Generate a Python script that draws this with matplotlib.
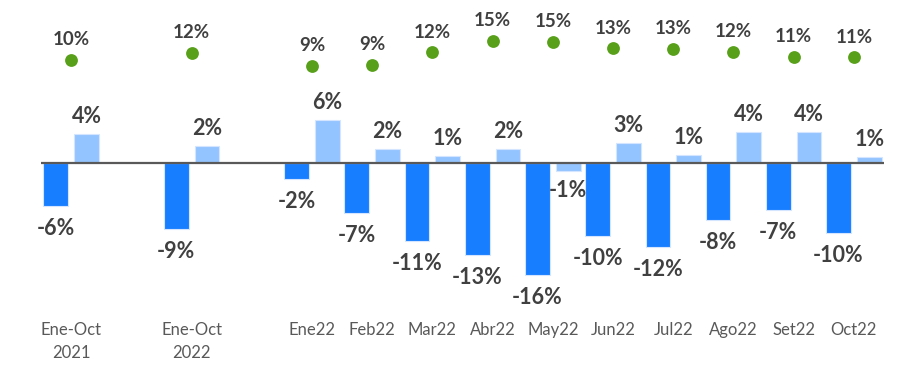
import numpy as np
import matplotlib
matplotlib.use('Agg')
from matplotlib import pyplot as plt

plt.rcParams['font.family'] = ['Lato', 'DejaVu Sans']

labels = ['Ene-Oct\n2021', 'Ene-Oct\n2022', 'Ene22', 'Feb22', 'Mar22', 'Abr22', 'May22',
          'Jun22', 'Jul22', 'Ago22', 'Set22', 'Oct22']
# positions leave an empty slot between the yearly totals and the months
pos = [0, 2, 4, 5, 6, 7, 8, 9, 10, 11, 12, 13]

dark = [-6.1, -9.4, -2.3, -7.1, -11.2, -13.2, -16.0, -10.4, -12.0, -8.2, -6.7, -10.0]
light = [4.1, 2.4, 6.1, 2.0, 1.0, 2.0, -1.1, 2.8, 1.2, 4.4, 4.4, 0.9]
green = [10.3, 12.1, 8.9, 9.1, 12.2, 15.1, 14.8, 13.2, 13.1, 12.4, 11.1, 11.0]

c_dark = '#177eff'
c_light = '#93c4ff'
c_green = '#58a01a'
c_text = '#404040'

fig = plt.figure(figsize=(9.07, 3.67), dpi=100)
ax = fig.add_axes([41/907, 1-300/367, (884-41)/907, 290/367])
ax2 = ax.twinx()

x = np.array(pos, dtype=float)
w = 0.41
off = 0.255
ax.bar(x-off, dark, w, color=c_dark, edgecolor='#d4e6ff', linewidth=0.8, zorder=2)
ax.bar(x+off, light, w, color=c_light, edgecolor='#d4e6ff', linewidth=0.8, zorder=2)
ax.axhline(0, color='#595959', lw=1.6, zorder=3)

for xi, v in zip(x-off, dark):
    ax.text(xi, v-1.7, '%d%%' % round(v), ha='center', va='top', fontsize=15.5,
            fontweight='bold', color=c_text)
for xi, v in zip(x+off, light):
    if v >= 0:
        ax.text(xi, v+1.0, '%d%%' % round(v), ha='center', va='bottom', fontsize=15.5,
                fontweight='bold', color=c_text)
    else:
        ax.text(xi, v-1.3, '%d%%' % round(v), ha='center', va='top', fontsize=15.5,
                fontweight='bold', color=c_text)

ax2.scatter(x, green, s=85, color=c_green, zorder=4, linewidths=0)
for xi, v in zip(x, green):
    ax2.text(xi, v+2.9, '%d%%' % round(v), ha='center', va='bottom', fontsize=13.5,
             fontweight='bold', color=c_text)

ax.set_xlim(-0.5, 13.5)
ax.set_ylim(-(300-163)/7.0, (163-10)/7.0)
ax2.set_ylim(9-(300-65.5)/4.08, 9+(65.5-10)/4.08)

ax.set_xticks(x)
ax.set_xticklabels(labels, fontsize=12, color='#595959', linespacing=1.5)
ax.tick_params(axis='x', length=0, pad=16)
ax.set_yticks([])
ax2.set_yticks([])
for a in (ax, ax2):
    for s in a.spines.values():
        s.set_visible(False)

fig.savefig('out.png', dpi=100)
